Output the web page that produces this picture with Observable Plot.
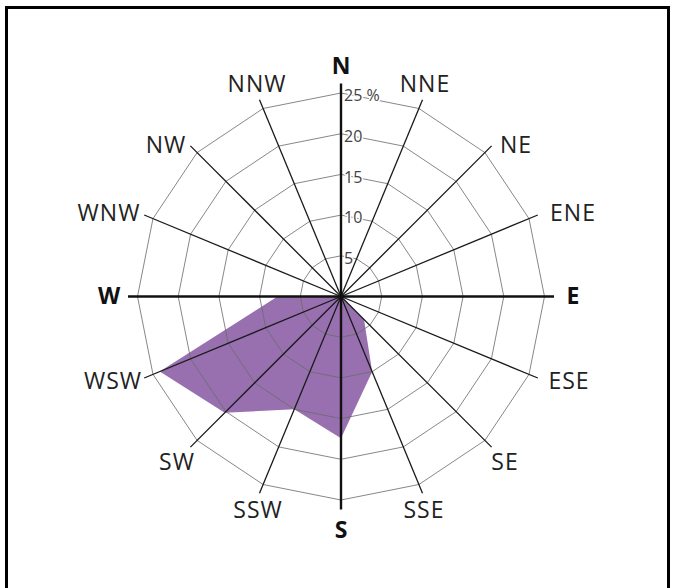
<!DOCTYPE html>
<html>
<head>
<meta charset="utf-8">
<script src="https://cdn.jsdelivr.net/npm/d3@7"></script>
<script src="https://cdn.jsdelivr.net/npm/@observablehq/plot@0.6"></script>
<style>
  html, body { margin: 0; padding: 0; background: #fff; }
  #wrap { position: relative; width: 673px; height: 588px; overflow: hidden; }
  #frame { position: absolute; left: 5px; top: 6px; width: 659px; height: 640px;
           border: 3px solid #000; box-sizing: content-box; pointer-events: none; }
  #chart { position: absolute; left: 0; top: 0; }
  .dirlab text { letter-spacing: 1px; }
</style>
</head>
<body>
<div id="wrap"><div id="chart"></div><div id="frame"></div></div>
<script>
const directions = ["N","NNE","NE","ENE","E","ESE","SE","SSE","S","SSW","SW","WSW","W","WNW","NW","NNW"];
const frequency  = [0, 0, 0, 0, 0, 0, 4, 10, 17.4, 15, 20.2, 24.1, 7.8, 0, 0, 0];
const ringLevels = [5, 10, 15, 20, 25];
const ringLabels = ["5", "10", "15", "20", "25 %"];
const cardinals  = ["N", "E", "S", "W"];

const W = 673, H = 588;
const cx = 340.5, cy = 296, k = 8.14; // pixels per percent

const ang = i => i * Math.PI / 8; // compass angle, clockwise from north
const px = (r, i) => r * Math.sin(ang(i));
const py = (r, i) => r * Math.cos(ang(i));

// polygon of frequencies
const poly = directions.map((d, i) => ({x: px(frequency[i], i), y: py(frequency[i], i)}));
poly.push(poly[0]);

// rings
const rings = [];
ringLevels.forEach(lv => {
  for (let i = 0; i <= 16; i++) rings.push({level: lv, x: px(lv, i % 16), y: py(lv, i % 16)});
});

// spokes
const spokeR = 213 / k;
const spokes = directions.map((d, i) => ({d, card: cardinals.includes(d), x2: px(spokeR, i), y2: py(spokeR, i)}));

// direction label placement (pixel offsets from centre by angular slot from vertical)
const upOff   = [[0, 230], [84, 212], [175, 151], [232, 83], [232, 0]];
const downOff = [[0, 234], [83, 214], [164, 166], [228, 85], [232, 0]];
const labels = directions.map((d, i) => {
  const slot = i <= 8 ? Math.min(i, 8 - i) : Math.min(i - 8, 16 - i);
  const sx = Math.sign(Math.round(Math.sin(ang(i)) * 1000));
  const up = Math.cos(ang(i)) > 1e-6;
  const [ox, oy] = (up ? upOff : downOff)[slot];
  return {d, card: cardinals.includes(d), x: sx * ox / k, y: (up ? oy : -oy) / k};
});

const tickData = ringLevels.map((lv, i) => ({y: lv, t: ringLabels[i]}));

const plot = Plot.plot({
  width: W, height: H,
  margin: 0,
  style: {fontFamily: "'Open Sans', sans-serif", background: "transparent"},
  x: {domain: [-cx / k, (W - cx) / k], range: [0, W], axis: null},
  y: {domain: [-(H - cy) / k, cy / k], range: [H, 0], axis: null},
  marks: [
    Plot.line(poly, {x: "x", y: "y", fill: "#9870b0", stroke: "none", curve: "linear"}),
    Plot.line(rings, {x: "x", y: "y", z: "level", stroke: "#6a6a6a", strokeWidth: 0.9, strokeOpacity: 0.9}),
    Plot.link(spokes.filter(s => !s.card), {x1: 0, y1: 0, x2: "x2", y2: "y2", stroke: "#1a1a1a", strokeWidth: 1.3}),
    Plot.link(spokes.filter(s => s.card), {x1: 0, y1: 0, x2: "x2", y2: "y2", stroke: "#111", strokeWidth: 2.4}),
    Plot.text(tickData, {x: 0, y: "y", text: "t", dx: 3, dy: 3, textAnchor: "start", fontSize: 16,
      fill: "#444", stroke: "white", strokeWidth: 3, paintOrder: "stroke"}),
    Plot.text(labels.filter(l => !l.card), {x: "x", y: "y", text: "d", fontSize: 23, fill: "#222", className: "dirlab"}),
    Plot.text(labels.filter(l => l.card), {x: "x", y: "y", text: "d", fontSize: 23, fontWeight: "bold", fill: "#111"})
  ]
});
document.getElementById("chart").appendChild(plot);
</script>
</body>
</html>
